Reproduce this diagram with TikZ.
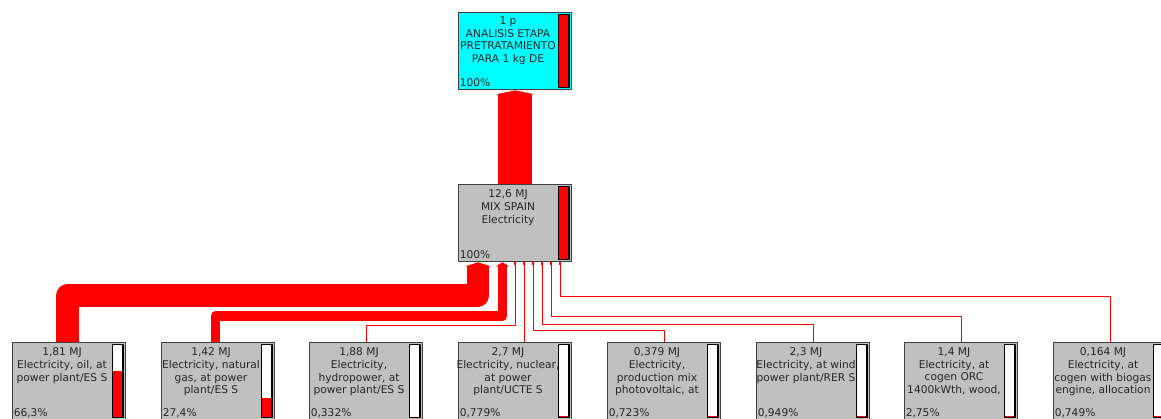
\documentclass[tikz,border=0pt]{standalone}
\usepackage{fontspec}
\setmainfont{DejaVu Sans}
\usetikzlibrary{arrows.meta,calc}
\definecolor{boxgray}{RGB}{192,192,192}
\definecolor{headcyan}{RGB}{0,255,255}
\begin{document}
\begin{tikzpicture}[x=0.75pt, y=-0.75pt, font=\fontsize{8}{9.5}\selectfont, line join=round,
  box/.style={draw=black!75, line width=1pt, minimum width=84.75pt, minimum height=57.75pt, inner sep=0pt, anchor=north west},
  lbl/.style={align=center, inner sep=0pt, anchor=north, text=black!85},
  pct/.style={inner sep=0pt, anchor=base west, text=black!85},
  bar/.style={draw=black, line width=0.9pt},
  flow/.style={draw=red, line width=#1},
  wire/.style={draw=red, line width=0.75pt, -{Square[length=2pt,width=2pt]}}]
\useasboundingbox (0,0) rectangle (1161,418);
\clip (0,0) rectangle (1161,418);
% process boxes
\node[box, fill=headcyan] (top) at (458,12) {};
\node[lbl] (ttop) at ($(top.north west)+(50,4.5)$) {1 p\\ANALISIS ETAPA\\PRETRATAMIENTO\\PARA 1 kg DE};
\node[pct] (ptop) at ($(top.south west)+(1.5,-3.5)$) {100\%};
\fill[red] ($(top.north west)+(100.5,2.5)$) rectangle ($(top.south west)+(111,-2.5)$);
\draw[bar] ($(top.north west)+(100.5,2.5)$) rectangle ($(top.south west)+(111,-2.5)$);
\node[box, fill=boxgray] (mix) at (458,184) {};
\node[lbl] (tmix) at ($(mix.north west)+(50,5.5)$) {12,6 MJ\\MIX SPAIN\\Electricity};
\node[pct] (pmix) at ($(mix.south west)+(1.5,-3.5)$) {100\%};
\fill[red] ($(mix.north west)+(100.5,2.5)$) rectangle ($(mix.south west)+(111,-2.5)$);
\draw[bar] ($(mix.north west)+(100.5,2.5)$) rectangle ($(mix.south west)+(111,-2.5)$);
\foreach \n/\x/\h/\txt/\p in {
  1/12/47/{1,81 MJ\\Electricity, oil, at\\power plant/ES S}/{66,3\%},
  2/161/19.5/{1,42 MJ\\Electricity, natural\\gas, at power\\plant/ES S}/{27,4\%},
  3/309/0/{1,88 MJ\\Electricity,\\hydropower, at\\power plant/ES S}/{0,332\%},
  4/458/1.5/{2,7 MJ\\Electricity, nuclear,\\at power\\plant/UCTE S}/{0,779\%},
  5/607/1.5/{0,379 MJ\\Electricity,\\production mix\\photovoltaic, at}/{0,723\%},
  6/756/1.5/{2,3 MJ\\Electricity, at wind\\power plant/RER S}/{0,949\%},
  7/904/2/{1,4 MJ\\Electricity, at\\cogen ORC\\1400kWth, wood,}/{2,75\%},
  8/1053/1.5/{0,164 MJ\\Electricity, at\\cogen with biogas\\engine, allocation}/{0,749\%}}{
  \node[box, fill=boxgray] (e\n) at (\x,342) {};
  \node[lbl] (t\n) at ($(e\n.north west)+(50,5.5)$) {\txt};
  \node[pct] (p\n) at ($(e\n.south west)+(1.5,-3.5)$) {\p};
  \fill[white] ($(e\n.north west)+(100.5,2.5)$) rectangle ($(e\n.south west)+(111,-2.5)$);
  \fill[red] ($(e\n.south west)+(100.5,-2.5)$) rectangle ++(10.5,-\h);
  \draw[bar] ($(e\n.north west)+(100.5,2.5)$) rectangle ($(e\n.south west)+(111,-2.5)$);
}
% flows
\draw[flow=25.5pt, -{Triangle[length=3pt,width=29pt,line width=0pt]}] (mix.north) -- (top.south);
\draw[flow=16.9pt, -{Triangle[length=3pt,width=19.5pt,line width=0pt]}] ($(e1.north)+(-1.5,0)$) -- ++(0,-46.5) -| ($(mix.south west)+(20,0)$);
\draw[flow=7.1pt, -{Triangle[length=3pt,width=10pt,line width=0pt]}] ($(e2.north)+(-2.5,0)$) -- ++(0,-26) -| ($(mix.south west)+(44.5,0)$);
\draw[wire] (e3.north) -- ++(0,-17) -| ($(mix.south west)+(57,0)$);
\draw[wire] ($(e4.north west)+(66,0)$) -- ($(mix.south west)+(66,0)$);
\draw[wire] (e5.north) -- ++(0,-12) -| ($(mix.south west)+(75,0)$);
\draw[wire] (e6.north) -- ++(0,-18) -| ($(mix.south west)+(84,0)$);
\draw[wire] (e7.north) -- ++(0,-26) -| ($(mix.south west)+(93,0)$);
\draw[wire] (e8.north) -- ++(0,-46) -| ($(mix.south west)+(102,0)$);
\end{tikzpicture}
\end{document}
